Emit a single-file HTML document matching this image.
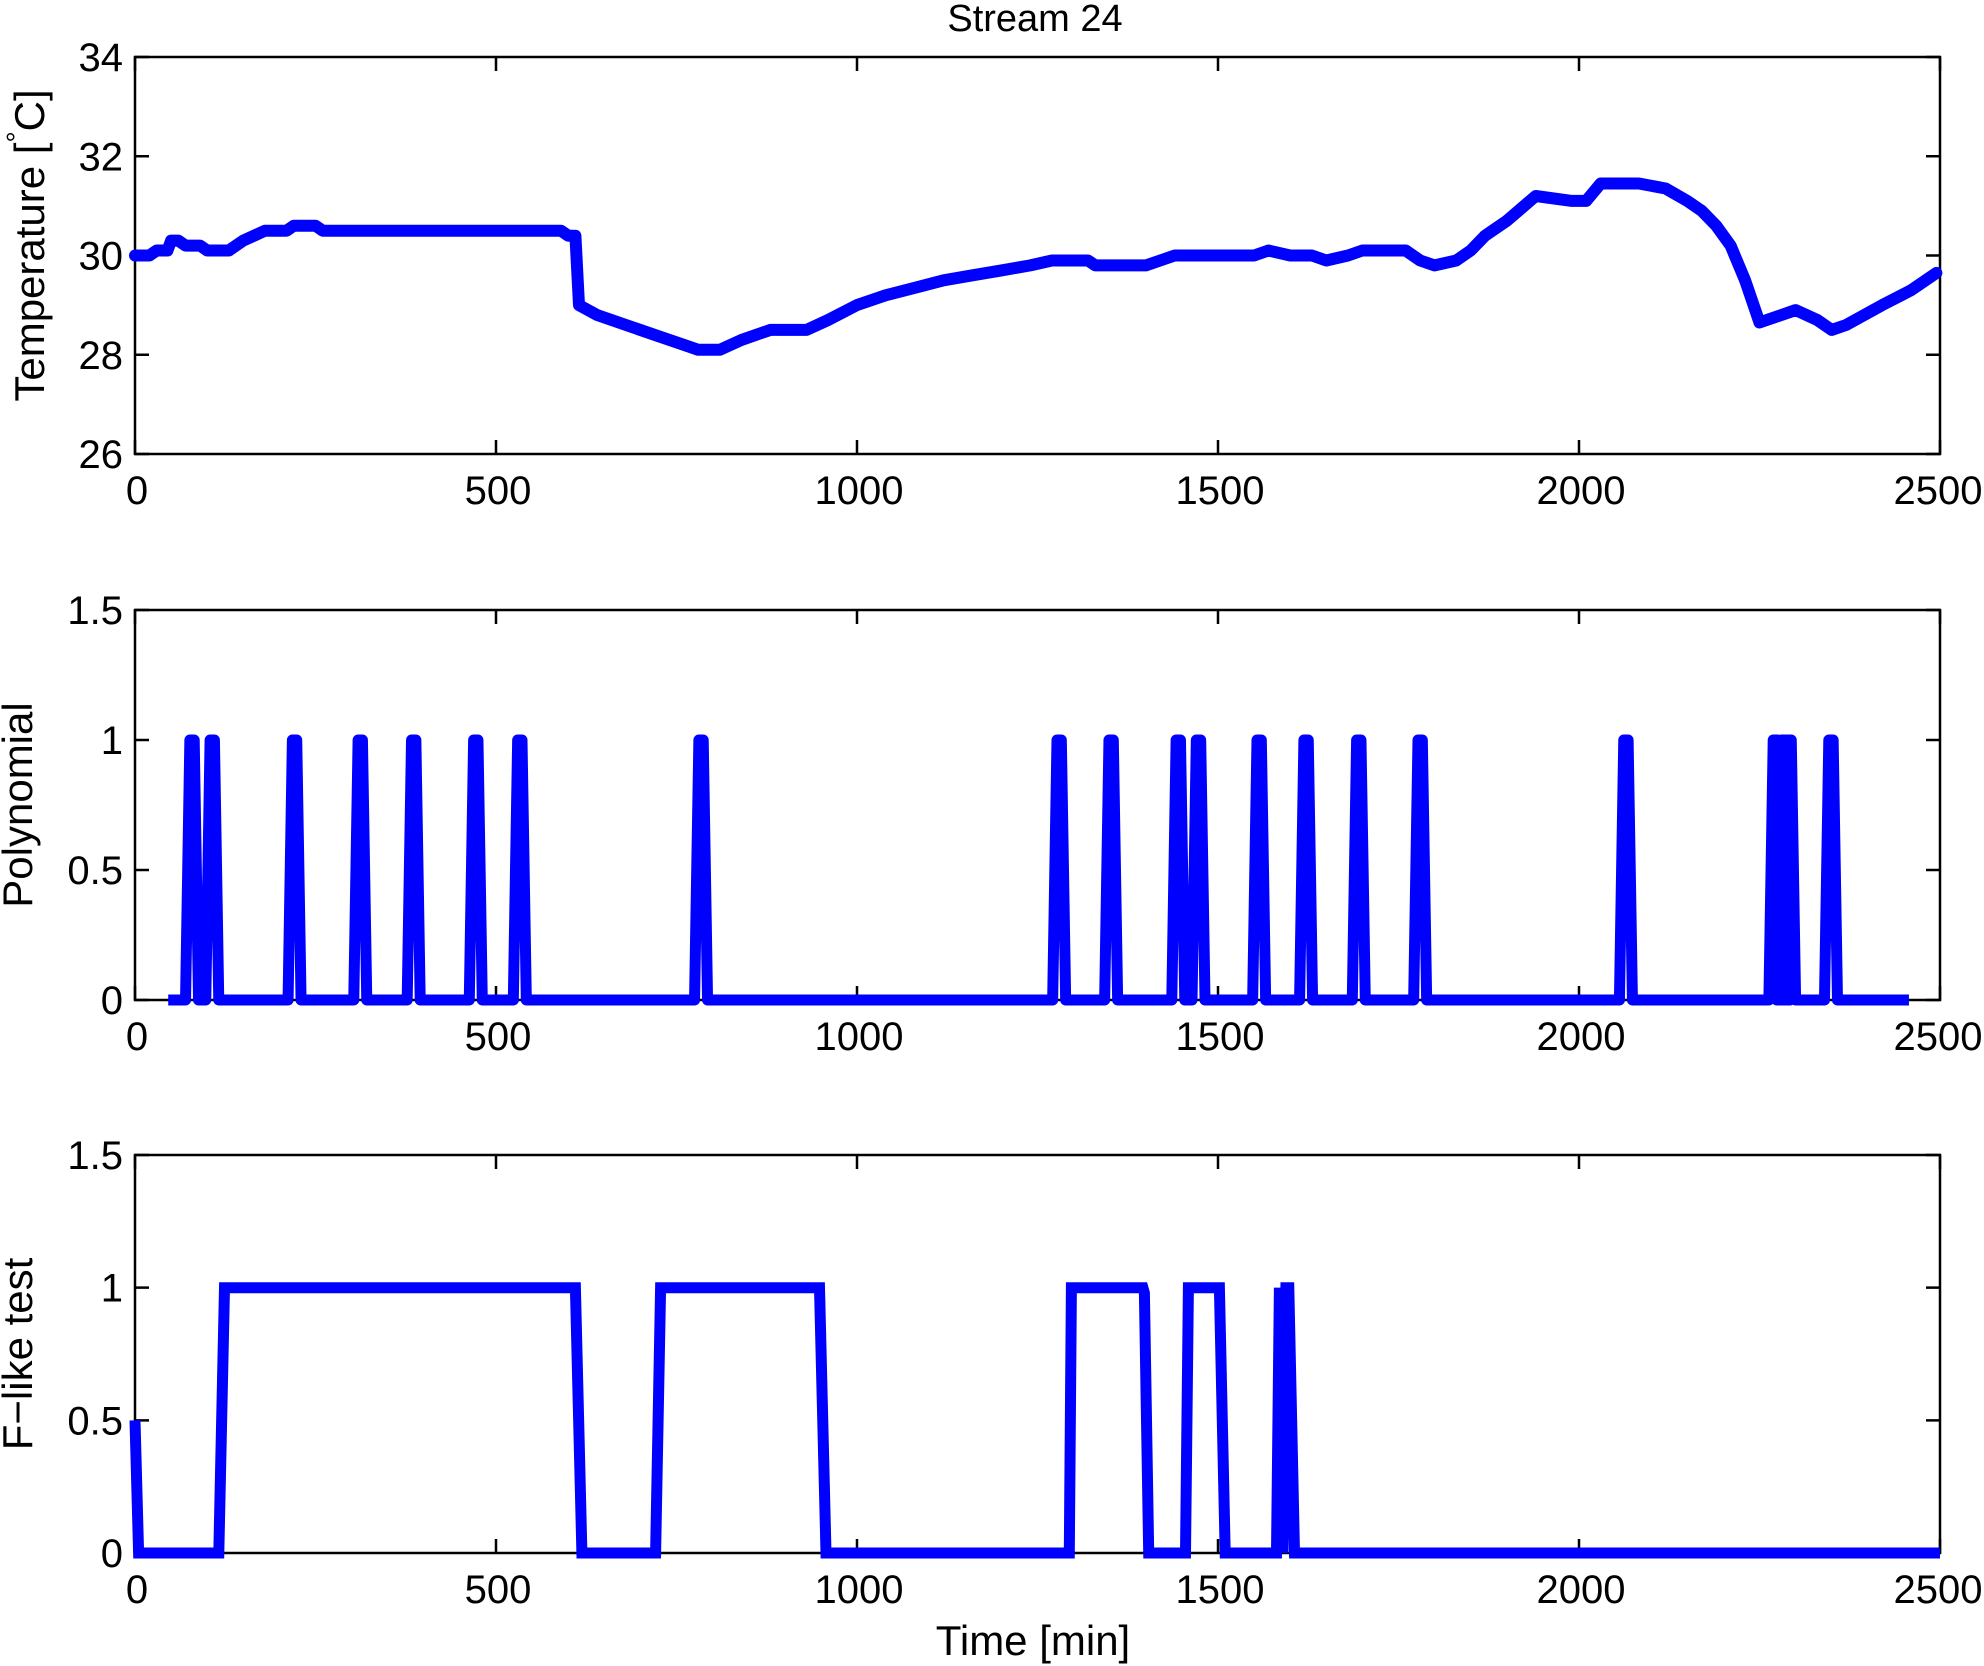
<!DOCTYPE html>
<html><head><meta charset="utf-8"><style>
html,body{margin:0;padding:0;background:#fff;}
svg{display:block;}
text{font-family:"Liberation Sans",Arial,sans-serif;fill:#000;}
</style></head><body>
<svg id="chart" width="1984" height="1666" viewBox="0 0 1984 1666" xmlns="http://www.w3.org/2000/svg">
<text x="1035" y="31" font-size="38" text-anchor="middle">Stream 24</text>
<text x="1033" y="1655" font-size="42" text-anchor="middle">Time [min]</text>
</svg>
<script>
// ---- data ----
const xTicks = [0, 500, 1000, 1500, 2000, 2500];
const tempTicks = [26, 28, 30, 32, 34];
const binTicks = [0, 0.5, 1, 1.5];
const binTickLabels = ['0', '0.5', '1', '1.5'];
const tempTime = [0,20,30,45,50,60,70,90,100,130,150,180,210,220,250,260,590,600,610,615,640,680,720,760,780,810,840,880,930,960,1000,1040,1080,1120,1160,1200,1240,1270,1320,1330,1400,1420,1440,1500,1550,1570,1600,1630,1650,1680,1700,1760,1780,1800,1830,1850,1870,1900,1940,1990,2010,2030,2083,2120,2150,2170,2190,2210,2230,2250,2290,2300,2330,2350,2370,2420,2460,2495];
const tempValue = [30.0,30.0,30.1,30.1,30.3,30.3,30.2,30.2,30.1,30.1,30.3,30.5,30.5,30.6,30.6,30.5,30.5,30.4,30.4,29.0,28.8,28.6,28.4,28.2,28.1,28.1,28.3,28.5,28.5,28.7,29.0,29.2,29.35,29.5,29.6,29.7,29.8,29.9,29.9,29.8,29.8,29.9,30.0,30.0,30.0,30.1,30.0,30.0,29.9,30.0,30.1,30.1,29.9,29.8,29.9,30.1,30.4,30.7,31.2,31.1,31.1,31.45,31.45,31.35,31.1,30.9,30.6,30.2,29.5,28.65,28.85,28.9,28.7,28.5,28.6,29.0,29.3,29.65];
const polyStart = 46, polyEnd = 2457;
const polySpikes = [79,107,221,312,386,472,533,784,1280,1352,1445,1473,1557,1622,1695,1780,2065,2272,2283,2291,2349];
const fTime = [0,5,116,124,610,619,721,728,948,957,1294,1297,1396,1398,1404,1455,1459,1502,1510,1581,1585,1590,1594,1598,1606,2500];
const fValue = [0.5,0,0,1,1,0,0,1,1,0,0,1,1,0.98,0,0,1,1,0,0,1,0,1,1,0,0];

// ---- layout ----
const NS = 'http://www.w3.org/2000/svg';
const svg = document.getElementById('chart');
const L = 135, R = 1940;
const panels = [
  {name:'temperature', top:57, bot:454, min:26, max:34, ticks:tempTicks, labels:tempTicks.map(String), title:'Temperature', tx:30},
  {name:'polynomial', top:610, bot:1000, min:0, max:1.5, ticks:binTicks, labels:binTickLabels, title:'Polynomial', tx:18},
  {name:'f-like-test', top:1155, bot:1553, min:0, max:1.5, ticks:binTicks, labels:binTickLabels, title:'F\u2212like test', tx:18}
];
function xs(t){ return L + (t/2500)*(R-L); }
function mk(tag, attrs, parent){ const e=document.createElementNS(NS,tag); for(const k in attrs) e.setAttribute(k,attrs[k]); (parent||svg).appendChild(e); return e; }

panels.forEach(p=>{
  const ys = v => p.bot - (v-p.min)/(p.max-p.min)*(p.bot-p.top);
  p.ys = ys;
  const g = mk('g',{});
  
  
  p.g = g;
  const box = mk('rect',{x:L,y:p.top,width:R-L,height:p.bot-p.top,fill:'none',stroke:'#000','stroke-width':2.5},g);
  
  
  xTicks.forEach(t=>{
    const x = xs(t);
    const tk = mk('path',{d:`M${x},${p.bot}v-14M${x},${p.top}v14`,stroke:'#000','stroke-width':2.5},g);
    
    
    const lb = mk('text',{x:t===2500?x-2:x+2,y:p.bot+50,'font-size':40,'text-anchor':'middle'},g);
    
    
    lb.textContent = String(t);
  });
  p.ticks.forEach((v,i)=>{
    const y = ys(v);
    const tk = mk('path',{d:`M${L},${y}h14M${R},${y}h-14`,stroke:'#000','stroke-width':2.5},g);
    
    
    const lb = mk('text',{x:123,y:y+14,'font-size':40,'text-anchor':'end'},g);
    
    
    lb.textContent = p.labels[i];
  });
  const cy = (p.top+p.bot)/2 - (p.name==='temperature'?10:0);
  const tt = mk('text',{x:p.tx+14,y:cy,'font-size':42,'text-anchor':'middle',transform:`rotate(-90 ${p.tx+14} ${cy})`},g);
  
  
  if(p.name==='temperature'){
    tt.textContent = 'Temperature [';
    const sup = mk('tspan',{'font-size':28,dy:-18},tt); sup.textContent='\u00B0';
    const rest = mk('tspan',{dy:18},tt); rest.textContent='C]';
  } else tt.textContent = p.title;
});

// temperature series
{
  const p = panels[0];
  const d = tempTime.map((t,i)=>(i?'L':'M')+xs(t).toFixed(1)+','+p.ys(tempValue[i]).toFixed(1)).join('');
  const ln = mk('path',{d,fill:'none',stroke:'#0000ff','stroke-width':12,'stroke-linejoin':'round','stroke-linecap':'round'},p.g);
  
  
}
// polynomial series
{
  const p = panels[1];
  let d = 'M'+xs(polyStart)+','+p.ys(0);
  polySpikes.forEach(c=>{
    d += 'L'+xs(c-9)+','+p.ys(0)+'L'+xs(c-3)+','+p.ys(1)+'L'+xs(c+3)+','+p.ys(1)+'L'+xs(c+9)+','+p.ys(0);
  });
  d += 'L'+xs(polyEnd)+','+p.ys(0);
  const ln = mk('path',{d,fill:'none',stroke:'#0000ff','stroke-width':11,'stroke-linejoin':'round'},p.g);
  
  
}
// F-like series
{
  const p = panels[2];
  const d = fTime.map((t,i)=>(i?'L':'M')+xs(t).toFixed(1)+','+p.ys(fValue[i]).toFixed(1)).join('');
  const ln = mk('path',{d,fill:'none',stroke:'#0000ff','stroke-width':11,'stroke-linejoin':'miter'},p.g);
  
  
}
</script>
</body></html>
